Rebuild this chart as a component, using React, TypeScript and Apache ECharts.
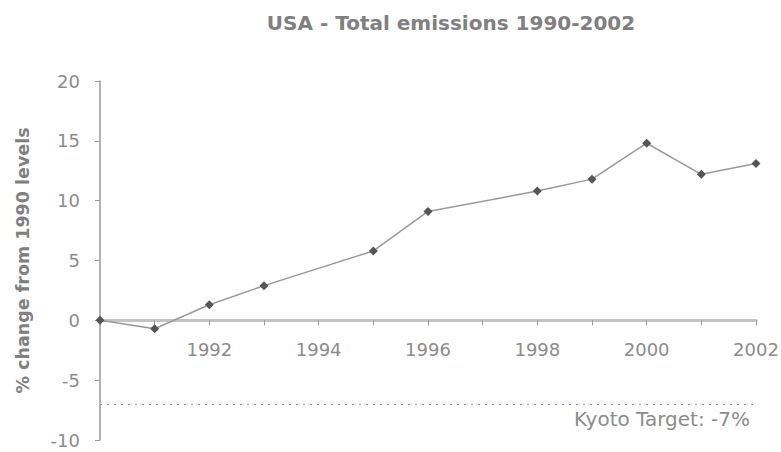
import React, { useEffect, useRef } from "react";
import * as echarts from "echarts";

const titleText = "USA - Total emissions 1990-2002";
const yAxisName = "% change from 1990 levels";
const years = [1990, 1991, 1992, 1993, 1995, 1996, 1998, 1999, 2000, 2001, 2002];
const changes = [0, -0.7, 1.3, 2.9, 5.8, 9.1, 10.8, 11.8, 14.8, 12.2, 13.1];
const kyotoTarget = -7;
const kyotoLabel = "Kyoto Target: -7%";
const yTicks = { min: -10, max: 20, interval: 5 };
const xRange = { min: 1990, max: 2002 };

const FONT = "DejaVu Sans";
const TEXT = "#8c8c8c";
const GRID = { left: 100, right: 25, top: 81, bottom: 12 };
const H = 452;

export default function App() {
  const ref = useRef<HTMLDivElement>(null);
  useEffect(() => {
    if (!ref.current) return;
    const chart = echarts.init(ref.current, undefined, { renderer: "svg" });
    const plotH = H - GRID.top - GRID.bottom;
    const zeroFromBottom = (plotH * (0 - yTicks.min)) / (yTicks.max - yTicks.min);
    const xCommon = {
      type: "value",
      min: xRange.min,
      max: xRange.max,
      interval: 1,
      splitLine: { show: false },
    };
    chart.setOption({
      animation: false,
      backgroundColor: "#ffffff",
      textStyle: { fontFamily: FONT },
      title: {
        text: titleText,
        left: 446,
        textAlign: "center",
        top: 8,
        textStyle: { fontFamily: FONT, fontSize: 20, fontWeight: "bold", color: "#808080" },
      },
      grid: { ...GRID, containLabel: false, outerBoundsMode: "none" },
      xAxis: [
        {
          ...xCommon,
          axisLine: { onZero: true, lineStyle: { color: "#c4c4c4", width: 3 } },
          axisTick: { show: true, length: 5, lineStyle: { color: "#999999", width: 1 } },
          axisLabel: { show: false },
        },
        {
          ...xCommon,
          position: "bottom",
          offset: -zeroFromBottom,
          axisLine: { show: false, onZero: false },
          axisTick: { show: false },
          axisLabel: {
            margin: 20,
            color: TEXT,
            fontFamily: FONT,
            fontSize: 18,
            formatter: (v: number) => (v % 2 === 0 && v !== 1990 ? String(v) : ""),
          },
        },
      ],
      yAxis: {
        type: "value",
        min: yTicks.min,
        max: yTicks.max,
        interval: yTicks.interval,
        name: yAxisName,
        nameLocation: "middle",
        nameRotate: 90,
        nameGap: 68,
        nameTextStyle: { fontFamily: FONT, fontSize: 17.5, fontWeight: "bold", color: "#808080" },
        axisLine: { show: true, onZero: false, lineStyle: { color: "#999999", width: 1.5 } },
        axisTick: { show: true, length: 5, lineStyle: { color: "#999999" } },
        axisLabel: { margin: 20, color: TEXT, fontFamily: FONT, fontSize: 18 },
        splitLine: { show: false },
      },
      series: [
        {
          type: "line",
          xAxisIndex: 0,
          data: years.map((y, i) => [y, changes[i]]),
          symbol: "diamond",
          symbolSize: 9,
          lineStyle: { color: "#9a9a9a", width: 1.5 },
          itemStyle: { color: "#555555" },
          markLine: {
            silent: true,
            symbol: "none",
            data: [{ yAxis: kyotoTarget }],
            lineStyle: { color: "#8c8c8c", type: [2, 5], width: 1 },
            label: {
              show: true,
              position: "insideEndBottom",
              formatter: kyotoLabel,
              color: TEXT,
              fontFamily: FONT,
              fontSize: 20,
              distance: [6, 5],
            },
          },
        },
      ],
    });
    return () => chart.dispose();
  }, []);
  return (
    <div
      ref={ref}
      style={{ position: "absolute", left: 0, top: 0, width: 781, height: 452 }}
    />
  );
}
